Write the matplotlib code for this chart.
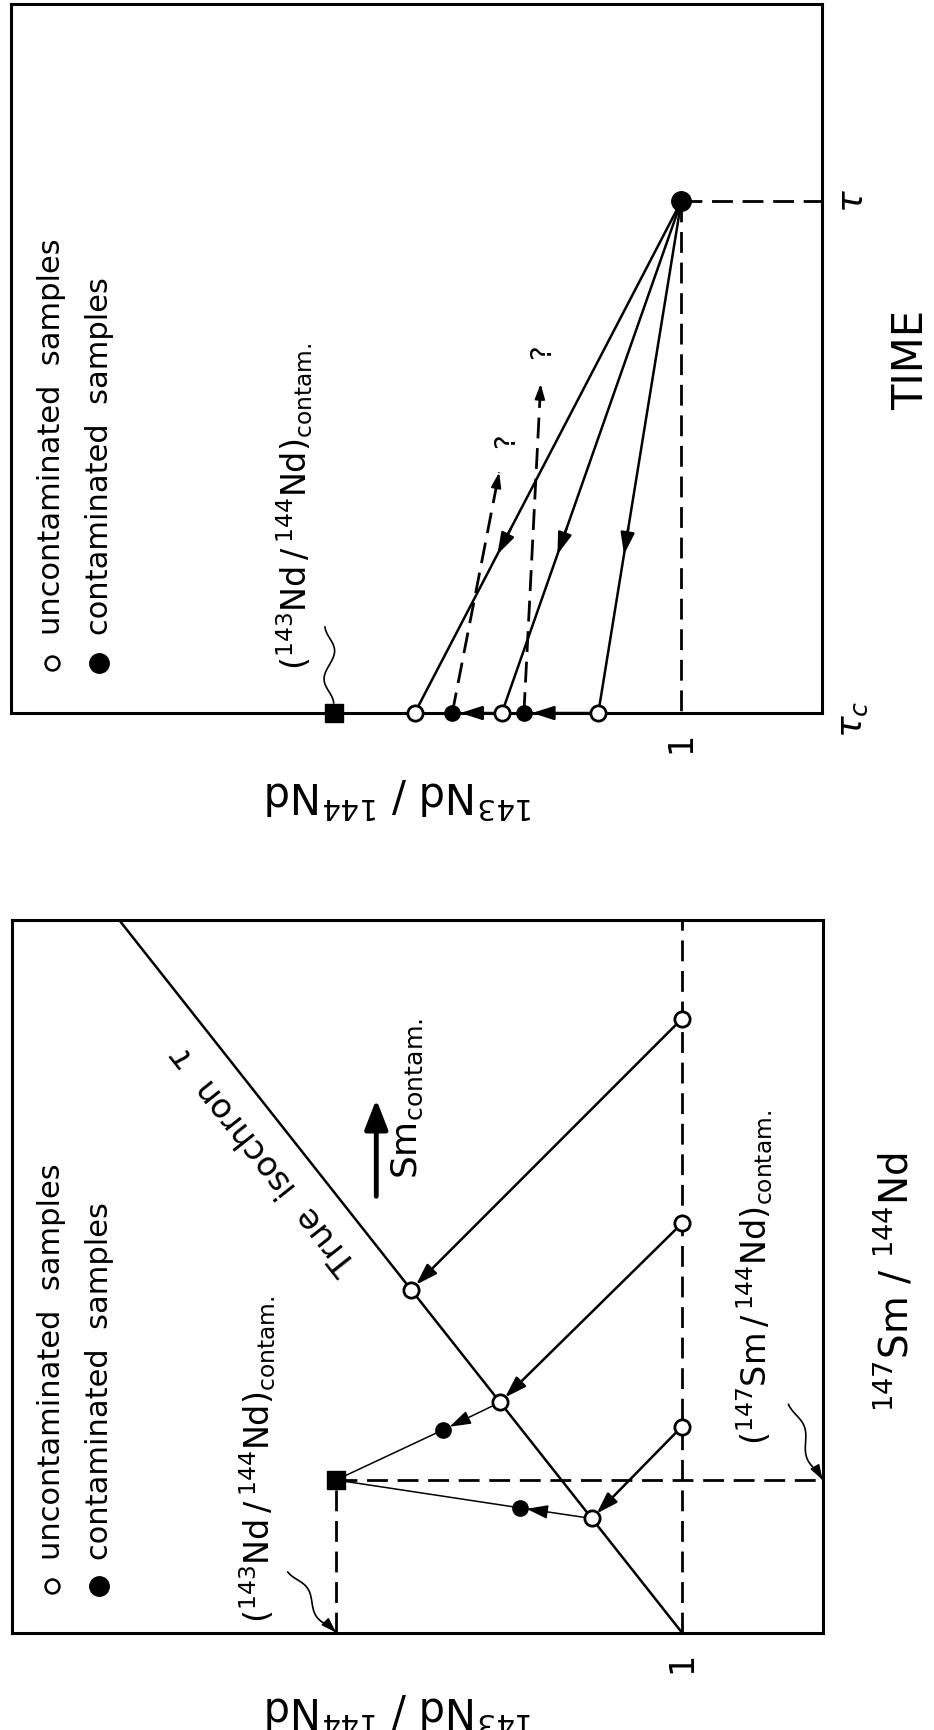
import numpy as np
import matplotlib
matplotlib.use('Agg')
import matplotlib.pyplot as plt

plt.rcParams['font.family'] = ['DejaVu Sans']
plt.rcParams['mathtext.fontset'] = 'dejavusans'
plt.rcParams['lines.scale_dashes'] = False

# ---- right panel: 143Nd/144Nd evolution with time ----
TAU_C = 0.0
TAU = 1.0
nd_at_tau = 1.0
nd_uncontam = [1.398, 1.268, 1.124]     # open circles at tau_c
nd_contam = [1.342, 1.235]              # filled circles at tau_c
contam_from = [1, 2]                    # uncontaminated sample each one came from
nd_contaminant = 1.519                  # square
nd_question = [1.272, 1.210]            # dashed "?" back-projections
t_question = [0.470, 0.643]

# ---- left panel: isochron diagram ----
iso_intercept = 1.0
iso_slope = 0.84
sm_start = [0.861, 0.574, 0.289]        # open circles on the 143/144 = 1 line
sm_iso = [0.481, 0.323, 0.160]          # open circles on the true isochron
sm_mixed = [0.2845, 0.175]              # contaminated samples
nd_mixed = [1.356, 1.242]
mixed_from = [1, 2]
sm_contaminant = 0.214
nd_contaminant_iso = 1.516

ND_MIN, ND_MAX = 0.79, 2.0
K = 'black'
DASH = (15, 7)
LBL_ND_CONTAM = r'$\left(^{143}\mathrm{Nd}\,/\,^{144}\mathrm{Nd}\right)_{\mathrm{contam.}}$'
LBL_SM_CONTAM = r'$\left(^{147}\mathrm{Sm}\,/\,^{144}\mathrm{Nd}\right)_{\mathrm{contam.}}$'


def arrow(ax, a, b, lw=1.8, shrink_a=0, shrink_b=0, hl=0.65, hw=0.21):
    ax.annotate('', xy=b, xytext=a, annotation_clip=False,
                arrowprops=dict(arrowstyle='-|>,head_length=%s,head_width=%s' % (hl, hw),
                                color=K, lw=lw, shrinkA=shrink_a, shrinkB=shrink_b,
                                mutation_scale=20))


def head(ax, p0, p1, frac, hl=0.65, hw=0.21, lw=1.8):
    # arrow head sitting on an existing line, tip at frac of the way p0->p1
    p0 = np.asarray(p0, float)
    p1 = np.asarray(p1, float)
    tip = p0 + frac * (p1 - p0)
    tail = p0 + (frac - 0.05) * (p1 - p0)
    arrow(ax, tuple(tail), tuple(tip), lw=lw, hl=hl, hw=hw)


def squiggle(ax, p0, p1, amp=7, waves=1.0, with_arrow=False):
    t = np.linspace(0, 1, 80)
    d0 = ax.transData.transform(p0)
    d1 = ax.transData.transform(p1)
    vec = d1 - d0
    u = vec / np.hypot(*vec)
    nrm = np.array([-u[1], u[0]])
    off = amp * np.sin(np.pi * t) * np.sin(2 * np.pi * waves * t)
    pts = d0 + np.outer(t, vec) + np.outer(off, nrm)
    data = ax.transData.inverted().transform(pts)
    ax.plot(data[:, 0], data[:, 1], color=K, lw=1.2, clip_on=False)
    if with_arrow:
        arrow(ax, tuple(data[-6]), tuple(data[-1]), lw=1.2, hl=0.45, hw=0.15)


def legend(ax, y_mark, y_text):
    ax.plot([0.0496], [y_mark], 'o', ms=10, mfc='white', mec=K, mew=1.8, transform=ax.transAxes)
    ax.plot([0.108], [y_mark], 'o', ms=14, color=K, transform=ax.transAxes)
    ax.text(0.0496, y_text, 'uncontaminated  samples', rotation=90, rotation_mode='anchor',
            ha='left', va='center', fontsize=22, transform=ax.transAxes)
    ax.text(0.108, y_text, 'contaminated  samples', rotation=90, rotation_mode='anchor',
            ha='left', va='center', fontsize=22, transform=ax.transAxes)


def frame(ax, top):
    ax.set_xlim(ND_MAX, ND_MIN)
    ax.set_ylim(0, top)
    for sp in ax.spines.values():
        sp.set_linewidth(2.2)
    ax.set_xticks([1.0])
    ax.set_xticklabels(['1'], rotation=90, fontsize=24)
    ax.tick_params(axis='x', length=0, pad=13)
    ax.set_xlabel('$^{143}$Nd / $^{144}$Nd', fontsize=30, rotation=180, va='center', ha='center')
    ax.yaxis.tick_right()
    ax.yaxis.set_label_position('right')


fig = plt.figure(figsize=(9.34, 17.31), dpi=100)
ax_t = fig.add_axes([0.0123, 0.5875, 0.8678, 0.4096])
ax_i = fig.add_axes([0.0125, 0.0563, 0.8683, 0.4118])

frame(ax_t, 1.385)
frame(ax_i, 1.0)
ax_t.xaxis.set_label_coords(0.479, -0.114)
ax_i.xaxis.set_label_coords(0.479, -0.107)

ax_t.set_yticks([TAU_C, TAU])
ax_t.set_yticklabels([r'$\tau_c$', r'$\tau$'], rotation=90, fontsize=26)
ax_t.tick_params(axis='y', length=0, pad=10)
ax_t.set_ylabel('TIME', fontsize=30, rotation=90, va='center', ha='center')
ax_t.yaxis.set_label_coords(1.11, 0.5)

ax_i.set_yticks([])
ax_i.set_ylabel('$^{147}$Sm / $^{144}$Nd', fontsize=28, rotation=90, va='center', ha='center')
ax_i.yaxis.set_label_coords(1.089, 0.492)

# ---------------- time panel ----------------
ax_t.plot([nd_at_tau, ND_MIN], [TAU, TAU], color=K, lw=2, dashes=DASH)
ax_t.plot([nd_at_tau, nd_at_tau], [TAU, TAU_C], color=K, lw=2, dashes=DASH)

for nd in nd_uncontam:
    ax_t.plot([nd_at_tau, nd], [TAU, TAU_C], color=K, lw=1.8)
    head(ax_t, (nd_at_tau, TAU), (nd, TAU_C), 0.69)

for i, nd in enumerate(nd_contam):
    arrow(ax_t, (nd_uncontam[contam_from[i]], TAU_C), (nd, TAU_C), shrink_a=6, shrink_b=6)
    ax_t.plot([nd, nd_question[i]], [TAU_C, t_question[i]], color=K, lw=2, dashes=DASH)
    head(ax_t, (nd, TAU_C), (nd_question[i], t_question[i]), 1.0, hl=0.45, hw=0.15, lw=1.5)
    f = 1 + 0.065 / t_question[i]
    ax_t.text(nd + f * (nd_question[i] - nd), f * t_question[i], '?', rotation=90,
              ha='center', va='center', fontsize=20)

ax_t.plot(nd_uncontam, [TAU_C] * len(nd_uncontam), 'o', ms=11, mfc='white', mec=K, mew=2,
          clip_on=False, zorder=6)
ax_t.plot(nd_contam, [TAU_C] * len(nd_contam), 'o', ms=11, color=K, clip_on=False, zorder=6)
ax_t.plot([nd_contaminant], [TAU_C], 's', ms=13, color=K, clip_on=False, zorder=6)
ax_t.plot([nd_at_tau], [TAU], 'o', ms=14, color=K, zorder=6)

ax_t.text(1.577, 0.086, LBL_ND_CONTAM, rotation=90, rotation_mode='anchor',
          ha='left', va='center', fontsize=24)
squiggle(ax_t, (1.532, 0.168), (nd_contaminant, 0.02), amp=9)
legend(ax_t, 0.0705, 0.112)

# ---------------- isochron panel ----------------
sm_line = np.array([0.0, 1.0])
ax_i.plot(iso_intercept + iso_slope * sm_line, sm_line, color=K, lw=1.8)
ax_i.plot([iso_intercept] * 2, [0, 1], color=K, lw=2, dashes=DASH)
ax_i.plot([nd_contaminant_iso] * 2, [0, sm_contaminant], color=K, lw=2, dashes=DASH)
ax_i.plot([nd_contaminant_iso, ND_MIN], [sm_contaminant] * 2, color=K, lw=2, dashes=DASH)

nd_iso = iso_intercept + iso_slope * np.array(sm_iso)
for s0, s1, n1 in zip(sm_start, sm_iso, nd_iso):
    arrow(ax_i, (iso_intercept, s0), (n1, s1), shrink_a=5, shrink_b=5)

for i in range(len(sm_mixed)):
    j = mixed_from[i]
    ax_i.plot([nd_contaminant_iso, nd_mixed[i]], [sm_contaminant, sm_mixed[i]], color=K, lw=1.1)
    arrow(ax_i, (nd_iso[j], sm_iso[j]), (nd_mixed[i], sm_mixed[i]), lw=1.1,
          shrink_a=5, shrink_b=5)

ax_i.plot([iso_intercept] * len(sm_start), sm_start, 'o', ms=11, mfc='white', mec=K, mew=2, zorder=6)
ax_i.plot(nd_iso, sm_iso, 'o', ms=11, mfc='white', mec=K, mew=2, zorder=6)
ax_i.plot(nd_mixed, sm_mixed, 'o', ms=11, color=K, zorder=6)
ax_i.plot([nd_contaminant_iso], [sm_contaminant], 's', ms=13, color=K, zorder=6)

p0 = ax_i.transData.transform((iso_intercept, 0))
p1 = ax_i.transData.transform((iso_intercept + iso_slope, 1))
ang = np.degrees(np.arctan2(p1[1] - p0[1], p1[0] - p0[0]))
ax_i.text(1.625, 0.666, r'True  isochron  $\tau$', rotation=ang, rotation_mode='anchor',
          ha='center', va='center', fontsize=24)

arrow(ax_i, (1.456, 0.612), (1.456, 0.748), lw=3.5, hl=0.9, hw=0.35)
ax_i.text(1.41, 0.6376, r'Sm$_{\mathrm{contam.}}$', rotation=90, rotation_mode='anchor',
          ha='left', va='center', fontsize=26)

ax_i.text(1.633, 0.0147, LBL_ND_CONTAM, rotation=90, rotation_mode='anchor',
          ha='left', va='center', fontsize=24)
squiggle(ax_i, (1.588, 0.0848), (nd_contaminant_iso, 0.0), amp=7, with_arrow=True)
ax_i.text(0.891, 0.2645, LBL_SM_CONTAM, rotation=90, rotation_mode='anchor',
          ha='left', va='center', fontsize=24)
squiggle(ax_i, (0.841, 0.320), (ND_MIN, sm_contaminant), amp=7, with_arrow=True)
legend(ax_i, 0.0657, 0.103)

fig.savefig('out.png', dpi=100)
